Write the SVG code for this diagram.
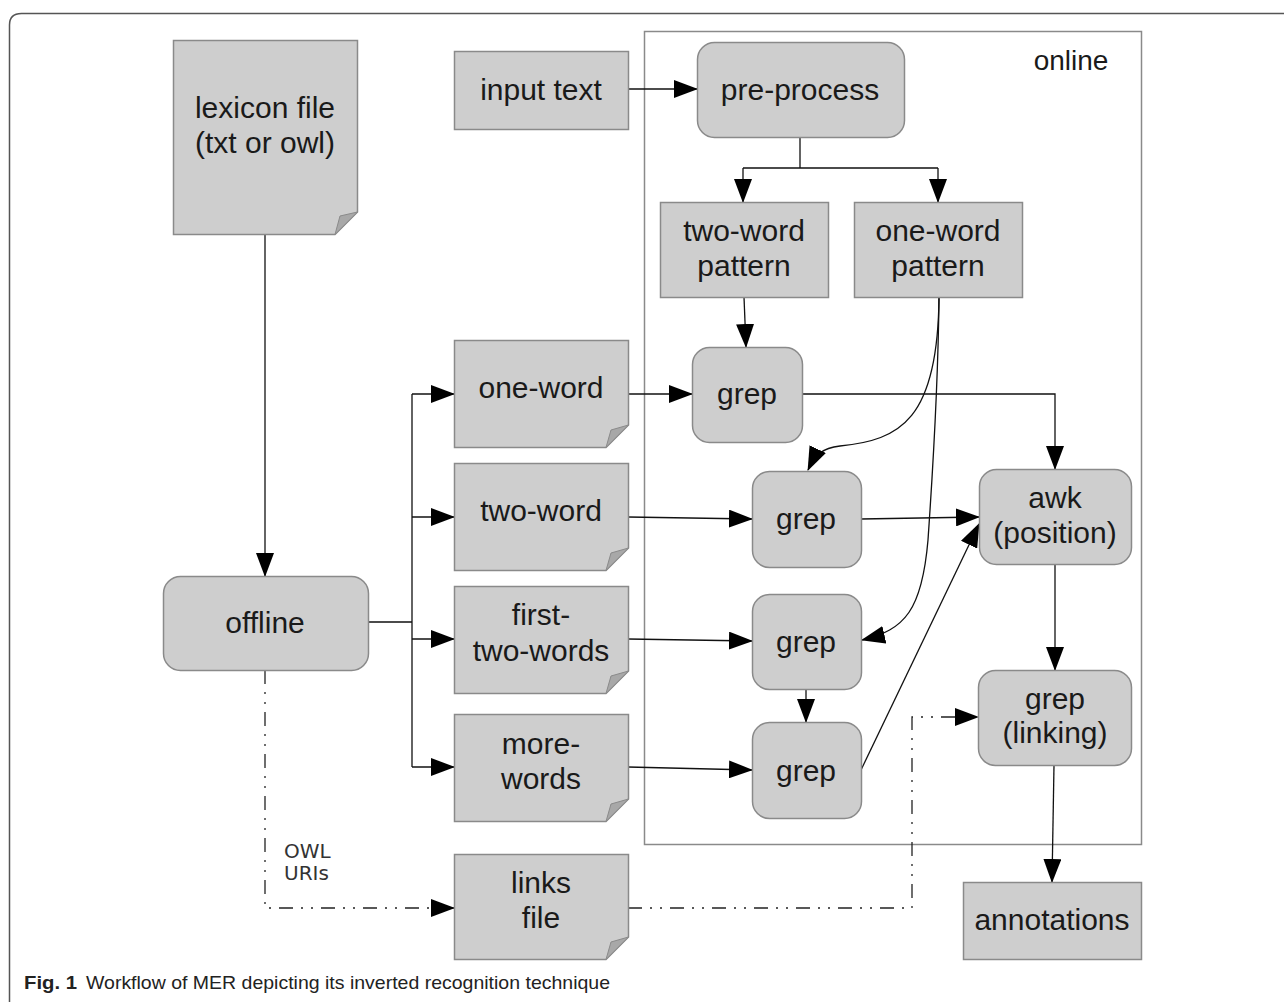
<svg xmlns="http://www.w3.org/2000/svg" width="1284" height="1002" viewBox="0 0 1284 1002">
<style>
.box{fill:#cecece;stroke:#8a8a8a;stroke-width:1.5}
.fold{fill:#a8a8a8;stroke:#8a8a8a;stroke-width:1}
.t{font-family:"Liberation Sans",Arial,sans-serif;font-size:30px;fill:#1a1a1a;text-anchor:middle}
.c{fill:none;stroke:#111;stroke-width:1.3}
.dd{fill:none;stroke:#222;stroke-width:1.3;stroke-dasharray:14,8,2,8,2,8}
</style>
<defs>
<marker id="ah" markerUnits="userSpaceOnUse" markerWidth="24" markerHeight="18" refX="23" refY="9" orient="auto">
<path d="M0,0 L24,9 L0,18 Z" fill="#000"/>
</marker>
</defs>
<rect width="1284" height="1002" fill="#fff"/>
<path d="M9.5,1002 V25 Q9.5,13.5 21.5,13.5 H1290" fill="none" stroke="#555" stroke-width="1.5"/>
<g id="online-frame">
<rect x="644.5" y="31.5" width="497" height="813" fill="none" stroke="#8a8a8a" stroke-width="1.5"/>
<text x="1071" y="70" class="t" style="font-size:28px">online</text>
</g>

<g id="connectors">
<path class="c" d="M265,235 V576" marker-end="url(#ah)"/>
<path class="c" d="M628,89 H697" marker-end="url(#ah)"/>
<path class="c" d="M800,137 V168 M743,168 H938"/>
<path class="c" d="M743,168 V202" marker-end="url(#ah)"/>
<path class="c" d="M938,168 V202" marker-end="url(#ah)"/>
<path class="c" d="M744,297 L746,347" marker-end="url(#ah)"/>
<path class="c" d="M368,622 H412 M412,394 V767"/>
<path class="c" d="M412,394 H454" marker-end="url(#ah)"/>
<path class="c" d="M412,517 H454" marker-end="url(#ah)"/>
<path class="c" d="M412,639 H454" marker-end="url(#ah)"/>
<path class="c" d="M412,767 H454" marker-end="url(#ah)"/>
<path class="c" d="M628,394 H692" marker-end="url(#ah)"/>
<path class="c" d="M802,394 H1055 V469" marker-end="url(#ah)"/>
<path class="c" d="M628,517 L752,519" marker-end="url(#ah)"/>
<path class="c" d="M861,519 L979,517" marker-end="url(#ah)"/>
<path class="c" d="M628,639 L752,641" marker-end="url(#ah)"/>
<path class="c" d="M628,767 L752,770" marker-end="url(#ah)"/>
<path class="c" d="M806,689 V722" marker-end="url(#ah)"/>
<path class="c" d="M861,770 L979,524" marker-end="url(#ah)"/>
<path class="c" d="M1055,564 V670" marker-end="url(#ah)"/>
<path class="c" d="M1054,765 L1052,882" marker-end="url(#ah)"/>
<path class="c" d="M939,297 C938,420 900,440 840,446 C822,448 815,455 808,470" marker-end="url(#ah)"/>
<path class="c" d="M939,297 C938,400 932,480 928,540 C922,610 905,630 862,640" marker-end="url(#ah)"/>
<path class="dd" d="M265,670 V908 H454" marker-end="url(#ah)"/>
<path class="dd" d="M628,908 H912 V717 H978" marker-end="url(#ah)"/>
</g>

<g id="lexicon-file">
<path class="box" d="M173.5,40.5 H357.5 V212 L335,234.5 H173.5 Z"/>
<path class="fold" d="M357.5,212 L335,234.5 L340,216 Z"/>
<text class="t" x="265" y="118">lexicon file</text>
<text class="t" x="265" y="153">(txt or owl)</text>
</g>
<g id="input-text">
<rect class="box" x="454.5" y="51.5" width="174" height="78"/>
<text class="t" x="541" y="100">input text</text>
</g>
<g id="pre-process">
<rect class="box" x="697.5" y="42.5" width="207" height="95" rx="17"/>
<text class="t" x="800" y="100">pre-process</text>
</g>
<g id="two-word-pattern">
<rect class="box" x="660.5" y="202.5" width="168" height="95"/>
<text class="t" x="744" y="241">two-word</text>
<text class="t" x="744" y="276">pattern</text>
</g>
<g id="one-word-pattern">
<rect class="box" x="854.5" y="202.5" width="168" height="95"/>
<text class="t" x="938" y="241">one-word</text>
<text class="t" x="938" y="276">pattern</text>
</g>
<g id="offline">
<rect class="box" x="163.5" y="576.5" width="205" height="94" rx="17"/>
<text class="t" x="265" y="633">offline</text>
</g>
<g id="one-word">
<path class="box" d="M454.5,340.5 H628.5 V425 L606,447.5 H454.5 Z"/>
<path class="fold" d="M628.5,425 L606,447.5 L611,430 Z"/>
<text class="t" x="541" y="398">one-word</text>
</g>
<g id="two-word">
<path class="box" d="M454.5,463.5 H628.5 V548 L606,570.5 H454.5 Z"/>
<path class="fold" d="M628.5,548 L606,570.5 L611,553 Z"/>
<text class="t" x="541" y="521">two-word</text>
</g>
<g id="first-two-words">
<path class="box" d="M454.5,586.5 H628.5 V671 L606,693.5 H454.5 Z"/>
<path class="fold" d="M628.5,671 L606,693.5 L611,676 Z"/>
<text class="t" x="541" y="625">first-</text>
<text class="t" x="541" y="661">two-words</text>
</g>
<g id="more-words">
<path class="box" d="M454.5,714.5 H628.5 V799 L606,821.5 H454.5 Z"/>
<path class="fold" d="M628.5,799 L606,821.5 L611,804 Z"/>
<text class="t" x="541" y="754">more-</text>
<text class="t" x="541" y="789">words</text>
</g>
<g id="links-file">
<path class="box" d="M454.5,854.5 H628.5 V937 L606,959.5 H454.5 Z"/>
<path class="fold" d="M628.5,937 L606,959.5 L611,942 Z"/>
<text class="t" x="541" y="893">links</text>
<text class="t" x="541" y="928">file</text>
</g>
<g id="grep1">
<rect class="box" x="692.5" y="347.5" width="110" height="95" rx="17"/>
<text class="t" x="747" y="404">grep</text>
</g>
<g id="grep2">
<rect class="box" x="752.5" y="471.5" width="109" height="96" rx="17"/>
<text class="t" x="806" y="529">grep</text>
</g>
<g id="grep3">
<rect class="box" x="752.5" y="594.5" width="109" height="95" rx="17"/>
<text class="t" x="806" y="652">grep</text>
</g>
<g id="grep4">
<rect class="box" x="752.5" y="722.5" width="109" height="96" rx="17"/>
<text class="t" x="806" y="781">grep</text>
</g>
<g id="awk">
<rect class="box" x="979.5" y="469.5" width="152" height="95" rx="17"/>
<text class="t" x="1055" y="508">awk</text>
<text class="t" x="1055" y="543">(position)</text>
</g>
<g id="grep-linking">
<rect class="box" x="978.5" y="670.5" width="153" height="95" rx="17"/>
<text class="t" x="1055" y="709">grep</text>
<text class="t" x="1055" y="743">(linking)</text>
</g>
<g id="annotations">
<rect class="box" x="963.5" y="882.5" width="178" height="77"/>
<text class="t" x="1052" y="930">annotations</text>
</g>
<g id="owl-label">
<text x="284" y="858" style="font-family:'DejaVu Sans',sans-serif;font-size:20px;fill:#333">OWL</text>
<text x="284" y="880" style="font-family:'DejaVu Sans',sans-serif;font-size:20px;fill:#333">URIs</text>
</g>
<g id="caption">
<text x="24" y="989" style="font-family:'Liberation Sans',Arial,sans-serif;font-size:19px;font-weight:bold;fill:#222" textLength="53" lengthAdjust="spacingAndGlyphs">Fig. 1</text>
<text x="86" y="989" style="font-family:'Liberation Sans',Arial,sans-serif;font-size:19px;fill:#222" textLength="524" lengthAdjust="spacingAndGlyphs">Workflow of MER depicting its inverted recognition technique</text>
</g>
</svg>
